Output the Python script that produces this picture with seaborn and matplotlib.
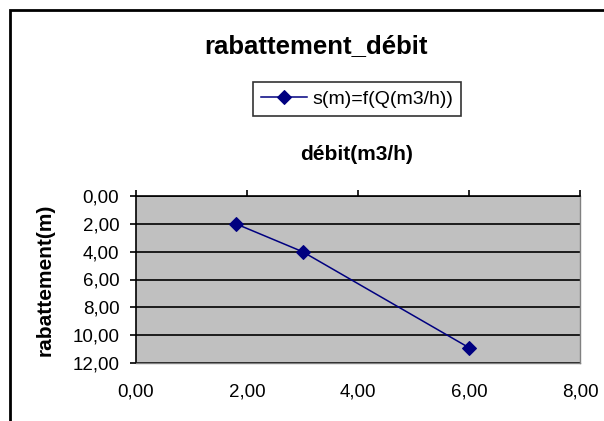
import matplotlib
matplotlib.use("Agg")
import matplotlib.pyplot as plt
from matplotlib.patches import Rectangle
from matplotlib.ticker import FuncFormatter, MultipleLocator
import seaborn as sns
import pandas as pd

debit = [1.8, 3.0, 6.0]
rabattement = [2.0, 4.0, 10.9]
series_name = "s(m)=f(Q(m3/h))"
title = "rabattement_débit"
xlabel = "débit(m3/h)"
ylabel = "rabattement(m)"

plt.rcParams['font.family'] = ['Liberation Sans', 'DejaVu Sans']

df = pd.DataFrame({"x": debit, "y": rabattement})

fig = plt.figure(figsize=(6.04, 4.21), dpi=100)
fig.patch.set_facecolor("white")
fig.patches.append(Rectangle((10/604, -0.2), 1.2, 1.2 - 10/421, transform=fig.transFigure,
                             fill=False, edgecolor="black", lw=2.0, zorder=0))

ax = fig.add_axes([136/604, 1 - 363/421, 444/604, 167/421])
ax.set_facecolor("#C0C0C0")

sns.lineplot(data=df, x="x", y="y", ax=ax, color="#000080", marker="D", markersize=7.5,
             markeredgecolor="#000080", lw=1.1, label=series_name, sort=False, zorder=3)

ax.set_xlim(0, 8)
ax.set_ylim(12, 0)
ax.xaxis.set_major_locator(MultipleLocator(2))
ax.yaxis.set_major_locator(MultipleLocator(2))
fmt = FuncFormatter(lambda v, p: f"{v:.2f}".replace(".", ","))
ax.xaxis.set_major_formatter(fmt)
ax.yaxis.set_major_formatter(fmt)

ax.grid(axis="y", color="black", lw=1.2)
ax.set_axisbelow(True)

for s in ["left", "top"]:
    ax.spines[s].set_color("black")
    ax.spines[s].set_linewidth(1.2)
for s in ["right", "bottom"]:
    ax.spines[s].set_color("#808080")
    ax.spines[s].set_linewidth(1.0)

ax.tick_params(axis="x", top=True, bottom=False, labeltop=False, labelbottom=True,
               direction="out", length=4, width=1.2, pad=11, labelsize=13.5)
ax.tick_params(axis="y", left=True, direction="out", length=4, width=1.2, pad=8, labelsize=13.5)

ax.set_xlabel(xlabel, fontsize=15, fontweight="bold")
ax.xaxis.set_label_position("top")
ax.xaxis.set_label_coords((357 - 136) / 444, (363 - 160) / 167)
ax.set_ylabel(ylabel, fontsize=15, fontweight="bold")
ax.yaxis.set_label_coords((55 - 136) / 444, (363 - 280) / 167)

fig.text(315.5/604, 1 - 46/421, title, ha="center", va="center", fontsize=18.5, fontweight="bold")

leg = ax.legend(loc="center", bbox_to_anchor=(357/604, 1 - 99/421),
                bbox_transform=fig.transFigure, frameon=True, fancybox=False,
                edgecolor="black", fontsize=14, handlelength=2.4, handletextpad=0.26,
                borderpad=0.4)
leg.get_frame().set_linewidth(1.2)

fig.savefig("out.png", dpi=100)
